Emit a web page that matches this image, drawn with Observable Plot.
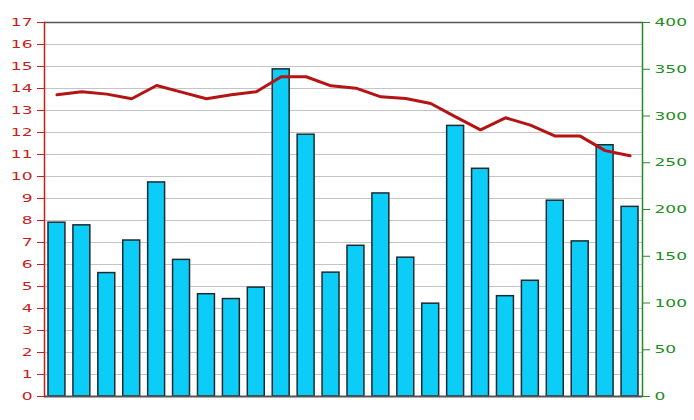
<!DOCTYPE html>
<html>
<head>
<meta charset="utf-8">
<script src="https://cdn.jsdelivr.net/npm/d3@7"></script>
<script src="https://cdn.jsdelivr.net/npm/@observablehq/plot@0.6"></script>
<style>
  html, body { margin: 0; padding: 0; background: #fff; }
  #chart svg { display: block; }
</style>
</head>
<body>
<div id="chart"></div>
<script>
const categories = d3.range(1, 25);
const barValues = [7.9, 7.78, 5.61, 7.09, 9.73, 6.21, 4.65, 4.43, 4.95, 14.87, 11.9, 5.63,
                   6.85, 9.23, 6.31, 4.22, 12.3, 10.35, 4.56, 5.26, 8.9, 7.05, 11.42, 8.62];
const lineValues = [322.7, 325.9, 323.4, 318.4, 332.6, 325.5, 318.4, 322.7, 325.9, 342, 342, 332.3,
                    329.8, 320.5, 318.7, 313.4, 299, 285.2, 298.1, 290.2, 278.5, 278.5, 263, 257.4];
const leftTicks = d3.range(0, 18);
const rightTicks = d3.range(0, 401, 50);

const leftMax = 17, rightMax = 400;
const toLeft = v => v * leftMax / rightMax;

const bars = categories.map((c, i) => ({c, v: barValues[i]}));
const line = categories.map((c, i) => ({c, v: lineValues[i]}));

const red = "#c81e1e";
const green = "#238c23";

const chart = Plot.plot({
  width: 694,
  height: 420,
  marginLeft: 44,
  marginRight: 52,
  marginTop: 22,
  marginBottom: 24,
  style: {fontFamily: "DejaVu Sans", fontSize: "11px", background: "#fff"},
  x: {type: "band", domain: categories, paddingInner: 0.32, paddingOuter: 0.16, round: false, axis: null},
  y: {domain: [0, leftMax], axis: null},
  marks: [
    Plot.gridY({ticks: d3.range(1, leftMax), stroke: "#c4c4c4", strokeOpacity: 1, strokeWidth: 1}),
    Plot.ruleY([leftMax], {stroke: "#555", strokeWidth: 1.5}),
    Plot.barY(bars, {x: "c", y: "v", fill: "#0ccdf8", stroke: "#1e2a30", strokeWidth: 1.5}),
    Plot.ruleY([0], {stroke: "#555", strokeWidth: 2}),
    Plot.line(line, {x: "c", y: d => toLeft(d.v), stroke: "#b41414", strokeWidth: 3}),
    Plot.frame({anchor: "left", stroke: red, strokeWidth: 1.5}),
    Plot.frame({anchor: "right", stroke: green, strokeWidth: 1.5}),
    Plot.axisY({anchor: "left", ticks: leftTicks, tickFormat: d => String(d), tickSize: 7, tickPadding: 5,
                stroke: red, fill: red, color: red, label: null}),
    Plot.axisY({anchor: "right", ticks: rightTicks.map(toLeft), tickFormat: d => String(Math.round(d * rightMax / leftMax)),
                tickSize: 7, tickPadding: 5, stroke: green, fill: green, color: green, label: null})
  ]
});

document.getElementById("chart").appendChild(chart);

// widen tick labels horizontally (the reference type is stretched)
chart.querySelectorAll('[aria-label="y-axis tick label"] text').forEach(t => {
  const tr = t.getAttribute("transform");
  if (tr) {
    t.setAttribute("transform", tr + " scale(1.55,1)");
  } else {
    const x = +t.getAttribute("x") || 0, y = +t.getAttribute("y") || 0;
    t.removeAttribute("x"); t.removeAttribute("y");
    t.setAttribute("transform", `translate(${x},${y}) scale(1.55,1)`);
  }
});
</script>
</body>
</html>
